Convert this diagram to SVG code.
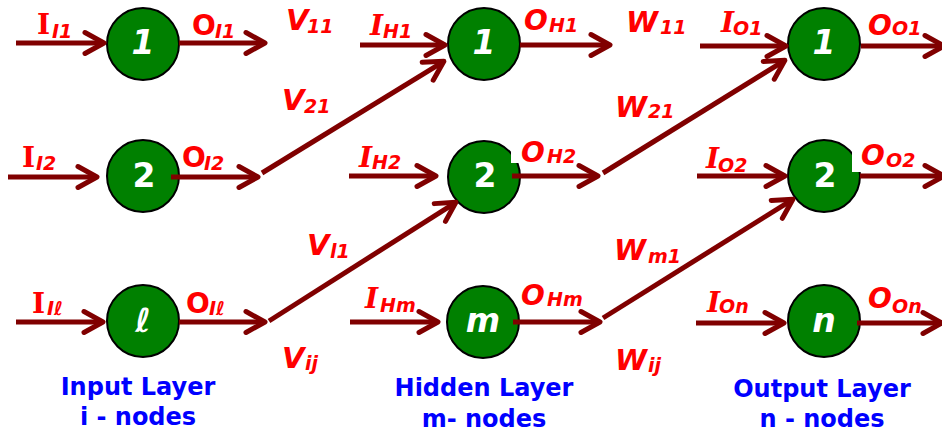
<svg xmlns="http://www.w3.org/2000/svg" width="942" height="432" viewBox="0 0 942 432">
<style>
.node{fill:#008000;stroke:#000;stroke-width:2}
.nt{font-family:"DejaVu Sans","Liberation Sans",sans-serif;font-weight:bold;font-size:33px;fill:#fff;text-anchor:middle}
.it{font-style:italic}
.cn{stroke:#800000;stroke-width:5;fill:none;marker-end:url(#ah)}
.lb{font-family:"DejaVu Sans","Liberation Sans",sans-serif;font-weight:bold;fill:#ff0000;font-size:28px}
.ser{font-family:"DejaVu Serif","Liberation Serif",serif}
.w{font-size:29px;font-style:italic}
.sb{font-size:19px;font-style:italic}
.ly{font-family:"DejaVu Sans","Liberation Sans",sans-serif;font-weight:bold;font-size:24px;fill:#0000ff;text-anchor:middle}
</style>
<defs>
<marker id="ah" markerUnits="userSpaceOnUse" orient="auto" refX="0" refY="0" markerWidth="40" markerHeight="40" viewBox="-30 -20 40 40" overflow="visible">
<path d="M-19,-10.5 L0,0 L-19,10.5" fill="none" stroke="#800000" stroke-width="5" stroke-linejoin="round" stroke-linecap="round"/>
</marker>
</defs>
<rect width="942" height="432" fill="#fff"/>
<g id="input-1"><circle class="node" cx="143" cy="44" r="36"/><text class="nt it" x="143" y="54">1</text></g>
<g id="input-2"><circle class="node" cx="143" cy="176" r="36"/><text class="nt" x="144" y="187">2</text></g>
<g id="input-l"><circle class="node" cx="143" cy="321" r="36"/><text class="nt it" x="143" y="332">ℓ</text></g>
<g id="hidden-1"><circle class="node" cx="484" cy="44" r="36"/><text class="nt it" x="484" y="54">1</text></g>
<g id="hidden-2"><circle class="node" cx="484" cy="177" r="36"/><text class="nt" x="485" y="187">2</text></g>
<g id="hidden-m"><circle class="node" cx="483" cy="322" r="36"/><text class="nt it" x="483" y="332">m</text></g>
<g id="output-1"><circle class="node" cx="824" cy="44" r="36"/><text class="nt it" x="824" y="54">1</text></g>
<g id="output-2"><circle class="node" cx="824" cy="176" r="36"/><text class="nt" x="825" y="187">2</text></g>
<g id="output-n"><circle class="node" cx="824" cy="321" r="36"/><text class="nt it" x="824" y="332">n</text></g>
<g id="connectors">
<line class="cn" x1="16" y1="43" x2="104" y2="43"/>
<line class="cn" x1="179" y1="43" x2="265" y2="43"/>
<line class="cn" x1="8" y1="177" x2="97" y2="177"/>
<line class="cn" x1="171" y1="177" x2="258" y2="177"/>
<line class="cn" x1="16" y1="322" x2="103" y2="322"/>
<line class="cn" x1="179" y1="322" x2="265" y2="322"/>
<line class="cn" x1="262" y1="173" x2="443.9" y2="61.3"/>
<line class="cn" x1="269" y1="321" x2="455.9" y2="202.3"/>
<line class="cn" x1="360" y1="45" x2="445" y2="45"/>
<line class="cn" x1="520" y1="45" x2="610" y2="45"/>
<line class="cn" x1="349" y1="176" x2="436" y2="176"/>
<line class="cn" x1="512" y1="176" x2="598" y2="176"/>
<line class="cn" x1="350" y1="322" x2="438" y2="322"/>
<line class="cn" x1="513" y1="322" x2="600" y2="322"/>
<line class="cn" x1="603" y1="173" x2="784.9" y2="60.3"/>
<line class="cn" x1="603" y1="318" x2="792.9" y2="199.3"/>
<line class="cn" x1="700" y1="46" x2="786" y2="46"/>
<line class="cn" x1="861" y1="46" x2="944" y2="46"/>
<line class="cn" x1="697" y1="176" x2="785" y2="176"/>
<line class="cn" x1="860" y1="176" x2="944" y2="176"/>
<line class="cn" x1="696" y1="323" x2="784" y2="323"/>
<line class="cn" x1="857" y1="323" x2="942" y2="323"/>
</g>
<g id="labels">
<rect x="511" y="138" width="11" height="25" fill="#fff"/>
<rect x="852" y="138" width="10" height="34" fill="#fff"/>
<text class="lb"><tspan class="ser" x="37" y="34">I</tspan><tspan class="sb" x="52" y="38">I1</tspan></text>
<text class="lb"><tspan x="192" y="35">O</tspan><tspan class="sb" x="215" y="38">I1</tspan></text>
<text class="lb"><tspan class="ser" x="22" y="167">I</tspan><tspan class="sb" x="36" y="170">I2</tspan></text>
<text class="lb"><tspan x="182" y="167">O</tspan><tspan class="sb" x="204" y="170">I2</tspan></text>
<text class="lb"><tspan class="ser" x="32" y="313">I</tspan><tspan class="sb" x="47" y="315">Iℓ</tspan></text>
<text class="lb"><tspan x="186" y="313">O</tspan><tspan class="sb" x="209" y="315">Iℓ</tspan></text>
<text class="lb it"><tspan class="ser" x="370" y="35">I</tspan><tspan class="sb" x="383" y="38">H1</tspan></text>
<text class="lb it"><tspan x="524" y="30">O</tspan><tspan class="sb" x="549" y="32">H1</tspan></text>
<text class="lb it"><tspan class="ser" x="359" y="167">I</tspan><tspan class="sb" x="372" y="169">H2</tspan></text>
<text class="lb it"><tspan x="521" y="162">O</tspan><tspan class="sb" x="547" y="163">H2</tspan></text>
<text class="lb it"><tspan class="ser" x="365" y="308">I</tspan><tspan class="sb" x="380" y="312">Hm</tspan></text>
<text class="lb it"><tspan x="521" y="305">O</tspan><tspan class="sb" x="547" y="306">Hm</tspan></text>
<text class="lb it"><tspan class="ser" x="721" y="32">I</tspan><tspan class="sb" x="733" y="35">O1</tspan></text>
<text class="lb it"><tspan x="868" y="35">O</tspan><tspan class="sb" x="892" y="35">O1</tspan></text>
<text class="lb it"><tspan class="ser" x="706" y="168">I</tspan><tspan class="sb" x="718" y="172">O2</tspan></text>
<text class="lb it"><tspan x="861" y="165">O</tspan><tspan class="sb" x="886" y="167">O2</tspan></text>
<text class="lb it"><tspan class="ser" x="707" y="312">I</tspan><tspan class="sb" x="719" y="313">On</tspan></text>
<text class="lb it"><tspan x="868" y="308">O</tspan><tspan class="sb" x="892" y="313">On</tspan></text>
<text class="lb"><tspan class="w" x="286" y="30">V</tspan><tspan class="sb" x="307" y="33">11</tspan></text>
<text class="lb"><tspan class="w" x="282" y="110">V</tspan><tspan class="sb" x="304" y="113">21</tspan></text>
<text class="lb"><tspan class="w" x="307" y="255">V</tspan><tspan class="sb" x="330" y="258">l1</tspan></text>
<text class="lb"><tspan class="w" x="282" y="368">V</tspan><tspan class="sb" x="305" y="370">ij</tspan></text>
<text class="lb"><tspan class="w" x="626" y="32">W</tspan><tspan class="sb" x="660" y="34">11</tspan></text>
<text class="lb"><tspan class="w" x="615" y="117">W</tspan><tspan class="sb" x="648" y="118">21</tspan></text>
<text class="lb"><tspan class="w" x="614" y="260">W</tspan><tspan class="sb" x="648" y="263">m1</tspan></text>
<text class="lb"><tspan class="w" x="615" y="370">W</tspan><tspan class="sb" x="648" y="372">ij</tspan></text>
</g>
<g id="layer-labels">
<text class="ly" x="138" y="395">Input Layer</text>
<text class="ly" x="138" y="425">i - nodes</text>
<text class="ly" x="484" y="396">Hidden Layer</text>
<text class="ly" x="484" y="427">m- nodes</text>
<text class="ly" x="822" y="397">Output Layer</text>
<text class="ly" x="822" y="427">n - nodes</text>
</g>
</svg>
